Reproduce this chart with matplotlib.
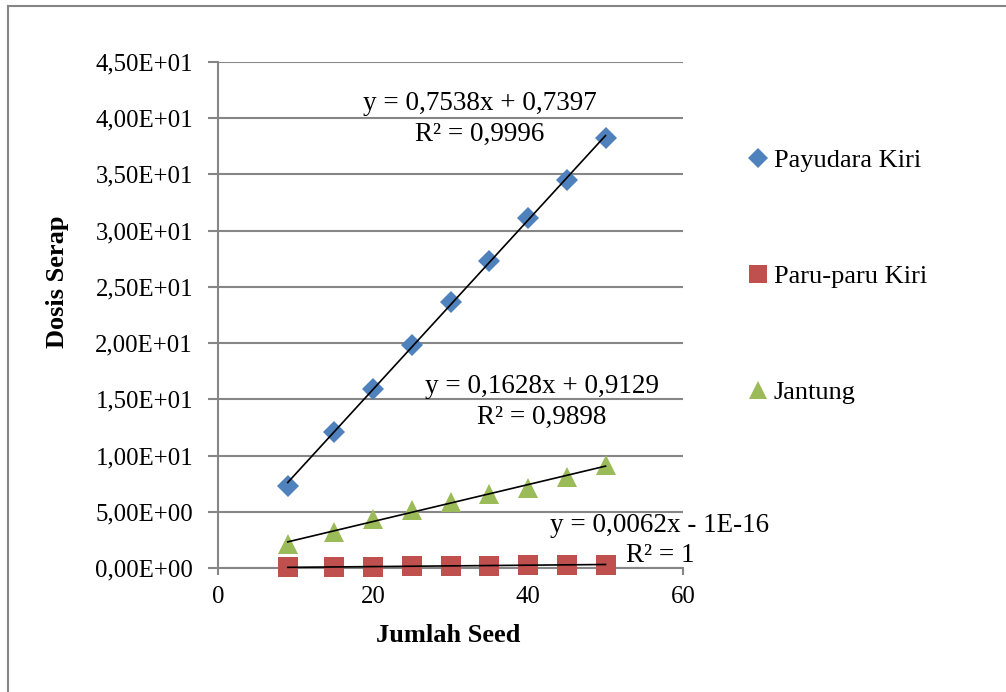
import numpy as np
import matplotlib
matplotlib.use("Agg")
import matplotlib.pyplot as plt
from matplotlib.lines import Line2D
from matplotlib.ticker import FuncFormatter, MultipleLocator

plt.rcParams['font.family'] = ['Liberation Serif', 'DejaVu Serif']

# ---- data ----
jumlah_seed = [9, 15, 20, 25, 30, 35, 40, 45, 50]
payudara_kiri = [7.3, 12.1, 15.9, 19.8, 23.7, 27.3, 31.1, 34.5, 38.2]
paru_paru_kiri = [0.06, 0.09, 0.12, 0.16, 0.19, 0.22, 0.25, 0.28, 0.31]
jantung = [2.1, 3.2, 4.4, 5.2, 5.9, 6.6, 7.1, 8.1, 9.2]

series_names = ["Payudara Kiri", "Paru-paru Kiri", "Jantung"]
eq_payudara = ["y = 0,7538x + 0,7397", "R² = 0,9996"]
eq_jantung = ["y = 0,1628x + 0,9129", "R² = 0,9898"]
eq_paru = ["y = 0,0062x - 1E-16", "R² = 1"]

x_ticks = [0, 20, 40, 60]
y_max = 45
# -------------------

BLUE = "#4F81BD"
RED = "#C0504D"
GREEN = "#9BBB59"
GRID = "#868686"

fig = plt.figure(figsize=(10.06, 6.92), dpi=100)
ax = fig.add_axes([218/1006, 1-568/692, 465/1006, 506/692])

x = np.array(jumlah_seed, dtype=float)
series = [
    (payudara_kiri, "D", BLUE, 11.0),
    (paru_paru_kiri, "s", RED, 14.5),
    (jantung, "^", GREEN, 15.0),
]

handles = []
for (vals, mk, col, ms), name in zip(series, series_names):
    h, = ax.plot(x, vals, linestyle="none", marker=mk, color=col,
                 markersize=ms, markeredgewidth=0, zorder=3, label=name,
                 clip_on=False)
    handles.append(h)

# trendlines (linear fit)
for vals, _, _, _ in series:
    m, b = np.polyfit(x, np.array(vals, dtype=float), 1)
    xs = np.array([x.min(), x.max()])
    ax.plot(xs, m*xs + b, color="black", linewidth=1.2, zorder=4, clip_on=False)

ax.set_xlim(0, 60)
ax.set_ylim(0, y_max)
ax.set_xticks(x_ticks)
ax.yaxis.set_major_locator(MultipleLocator(5))
ax.yaxis.set_major_formatter(FuncFormatter(lambda v, p: f"{v:.2E}".replace(".", ",")))

ax.grid(axis="y", color=GRID, linewidth=1.5, zorder=0)
ax.set_axisbelow(True)
for s in ["top", "right"]:
    ax.spines[s].set_visible(False)
for s in ["left", "bottom"]:
    ax.spines[s].set_color(GRID)
    ax.spines[s].set_linewidth(1.5)
ax.tick_params(axis="both", colors=GRID, labelcolor="black", labelsize=17.8,
               width=1.5, direction="out")
ax.tick_params(axis="x", length=5, pad=8)
ax.tick_params(axis="y", length=7, pad=11)

ax.set_xlabel("Jumlah Seed", fontsize=19, fontweight="bold")
ax.set_ylabel("Dosis Serap", fontsize=19, fontweight="bold")
ax.xaxis.set_label_coords(230/465, -68/506)
ax.yaxis.set_label_coords(-160/465, 286/506)
ax.xaxis.label.set_va("center")
ax.yaxis.label.set_va("center")

# equation labels
def eq(lines, cx, y1, y2):
    for s, yy in zip(lines, (y1, y2)):
        ax.text(cx, yy, s, fontsize=19.5, ha="center", va="center", zorder=5,
                clip_on=False)

eq(eq_payudara, 33.8, 41.35, 38.6)
eq(eq_jantung, 41.8, 16.1, 13.4)
eq(eq_paru, 57.0, 3.74, 1.07)

leg = fig.legend(handles=handles, loc="upper left",
                 bbox_to_anchor=(750/1006, 1-149/692), frameon=False,
                 fontsize=19, handlelength=0.6, handletextpad=0.3,
                 labelspacing=3.5, markerscale=0.88, borderaxespad=0, borderpad=0)

# outer chart border
fig.add_artist(Line2D([8/1006, 8/1006], [0, 1-6/692], color=GRID, linewidth=1.5,
                      transform=fig.transFigure))
fig.add_artist(Line2D([8/1006, 1], [1-6/692, 1-6/692], color=GRID, linewidth=1.5,
                      transform=fig.transFigure))

fig.savefig("out.png", dpi=100)
